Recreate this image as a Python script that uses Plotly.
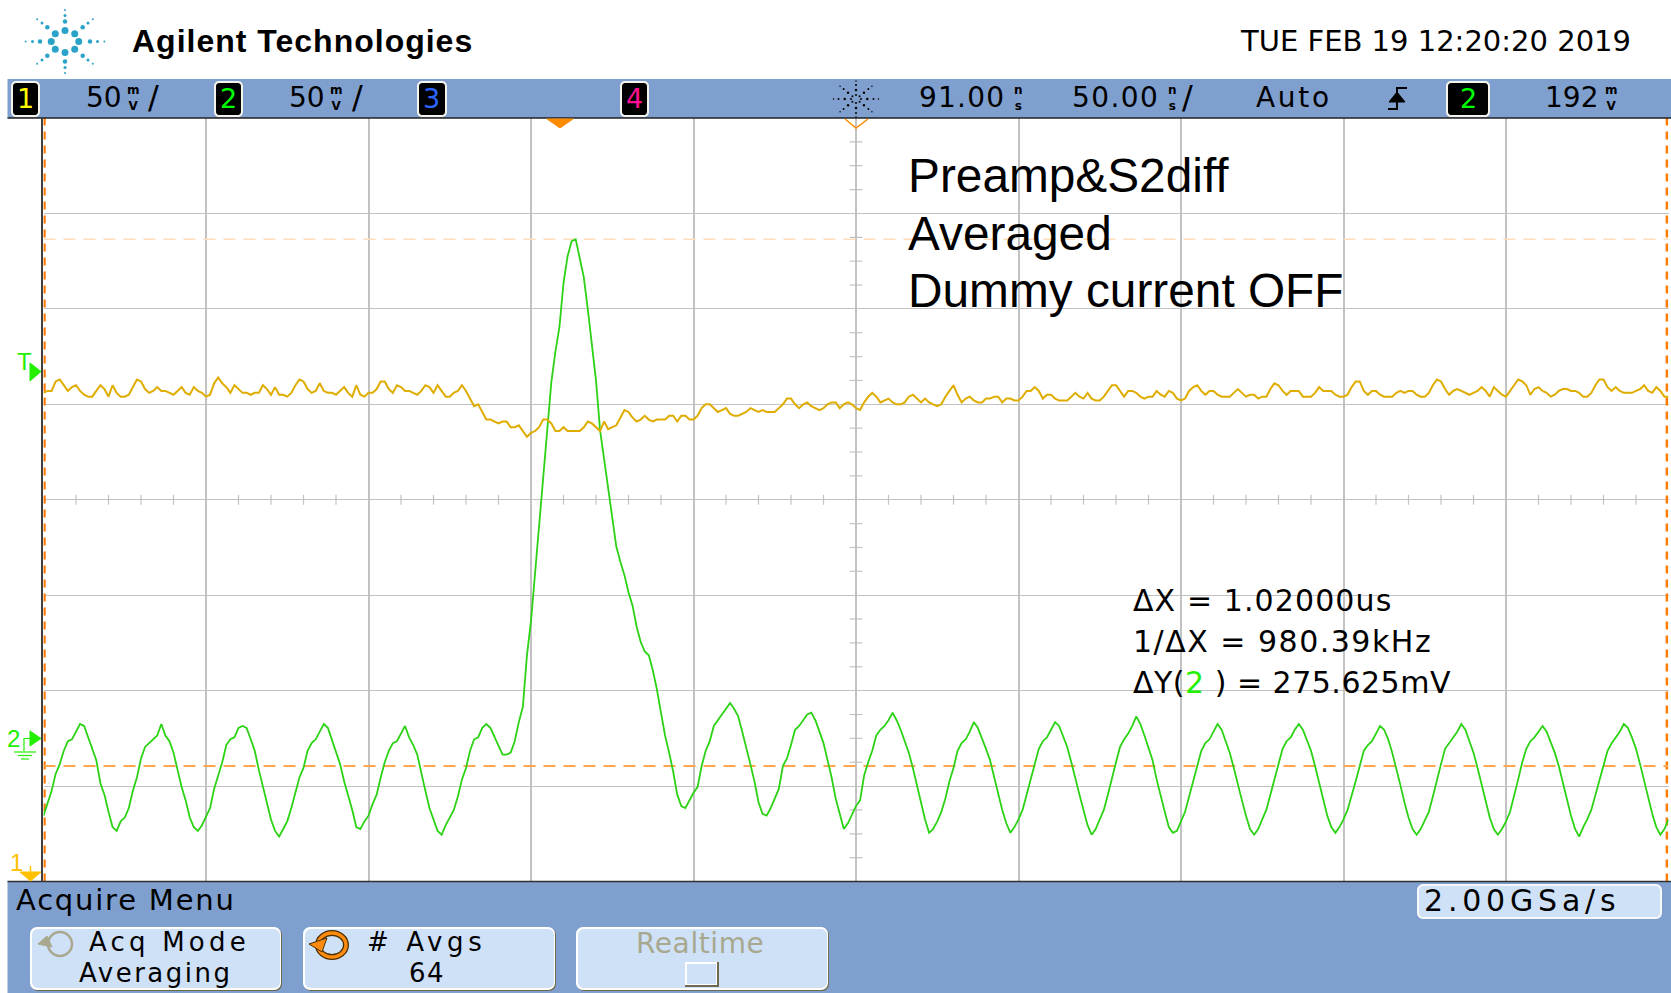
import math
import plotly.graph_objects as go

W, H = 1671, 993
PX0, PX1, PY0, PY1 = 43.5, 1668.5, 118.0, 881.5

# --- data ---
t_start_ns = -159.0
t_span_ns = 500.0
sample_ns = 1.25
ch2_mv = [
 -40,-34,-27,-18,-13,-6,-1,0,4,8,7,1,-5,-11,-23,-29,-38,-46,-48,-43,
 -41,-36,-27,-20,-10,-4,-2,0,2,8,2,-1,-7,-16,-25,-32,-41,-46,-48,-45,
 -40,-36,-26,-19,-12,-3,0,1,6,7,6,0,-6,-16,-25,-34,-42,-48,-51,-47,
 -43,-36,-28,-20,-15,-6,-2,0,4,8,6,0,-7,-13,-22,-29,-37,-46,-47,-43,
 -40,-34,-29,-20,-12,-6,-2,-1,3,7,1,-3,-8,-18,-27,-36,-42,-48,-50,-45,
 -41,-37,-30,-21,-15,-6,0,1,6,8,6,1,-3,-8,-8,-7,-1,9,17,44,
 62,87,111,135,160,187,203,216,239,253,261,262,252,242,225,208,188,162,146,132,
 114,101,93,86,77,70,59,51,46,44,36,26,14,2,-7,-17,-29,-35,-36,-32,
 -28,-25,-14,-6,-1,7,10,13,16,19,16,12,4,-4,-13,-22,-33,-39,-40,-36,
 -31,-26,-14,-10,-3,5,7,10,13,14,10,4,-2,-11,-20,-31,-39,-47,-44,-39,
 -35,-32,-19,-12,-6,2,5,7,10,14,10,5,-1,-7,-15,-24,-33,-42,-49,-47,
 -43,-38,-31,-22,-15,-6,-2,0,4,9,6,1,-5,-11,-20,-28,-37,-44,-49,-46,
 -42,-37,-29,-21,-13,-5,-1,1,5,9,7,2,-4,-12,-21,-29,-37,-45,-50,-47,
 -42,-37,-29,-20,-12,-4,0,3,7,12,8,2,-4,-11,-21,-30,-38,-46,-49,-48,
 -43,-38,-30,-22,-13,-6,-2,0,4,8,5,-1,-7,-15,-24,-32,-40,-47,-50,-47,
 -42,-37,-29,-21,-12,-5,-1,1,5,8,5,0,-6,-14,-23,-32,-40,-46,-49,-46,
 -42,-37,-30,-22,-14,-6,-3,-1,3,7,5,0,-7,-15,-24,-33,-41,-47,-50,-47,
 -42,-38,-30,-21,-13,-5,-2,1,4,8,5,-1,-7,-15,-24,-33,-41,-47,-50,-47,
 -43,-38,-30,-21,-12,-5,-1,1,4,7,4,-1,-7,-14,-23,-32,-40,-47,-51,-46,
 -42,-37,-29,-21,-13,-6,-2,1,4,8,6,1,-5,-13,-22,-31,-39,-46,-50,-47,
 -42]
ch1_mv = [
 56,57,57,62,63,60,57,59,60,57,55,54,54,57,60,58,54,60,56,54,
 54,55,59,63,62,58,56,57,59,57,57,56,55,57,59,56,55,59,57,56,
 54,55,61,64,61,59,56,60,58,56,56,55,56,56,60,58,55,59,55,55,
 54,56,60,63,62,58,56,57,61,57,56,56,55,57,59,56,54,60,55,54,
 56,56,58,62,62,58,56,60,59,57,57,56,55,57,60,59,56,60,57,54,
 54,56,57,60,57,53,49,50,46,42,42,41,40,41,41,38,38,39,36,33,
 35,36,38,42,42,40,36,36,38,36,36,36,36,38,41,40,38,36,41,37,
 38,39,43,47,46,43,41,42,44,42,41,42,42,42,44,44,41,44,44,42,
 42,44,48,50,50,48,46,47,48,45,44,44,45,46,48,47,46,47,46,46,
 46,48,50,53,53,50,48,50,51,49,48,47,48,50,51,51,48,50,51,50,
 48,47,51,54,56,54,51,52,53,51,50,50,51,54,55,53,51,53,51,50,
 49,50,54,57,60,55,51,53,54,52,51,51,53,53,54,54,51,53,53,52,
 52,54,57,57,59,57,53,55,55,53,52,52,52,54,56,54,53,56,53,52,
 52,54,57,60,60,57,54,57,57,56,54,53,54,54,57,55,54,57,56,53,
 52,53,57,59,60,57,55,57,57,55,54,54,54,56,58,56,54,55,55,53,
 54,54,58,61,60,57,55,57,57,57,54,54,54,56,59,57,57,57,55,54,
 54,55,59,62,62,57,55,57,57,55,54,54,54,56,57,56,57,57,55,54,
 54,56,60,63,62,58,55,57,58,57,56,55,56,57,59,57,54,59,57,55,
 54,57,60,63,62,60,55,58,59,57,56,54,55,57,58,58,57,57,56,54,
 54,56,60,63,63,59,57,59,57,56,56,56,57,58,60,57,56,59,57,54,
 54]
cursor_y_mv = [262, -14]
cursor_x_ns = [-158.7, 340.5]
ch2_range_mv = [-74.5, 325.5]
ch1_range_mv = [-200, 200]
x_grid_ns = [-159, -109, -59, -9, 41, 91, 141, 191, 241, 291, 341]
y_grid_mv = [-74.5, -24.5, 25.5, 75.5, 125.5, 175.5, 225.5, 275.5, 325.5]
date_text = "TUE FEB 19 12:20:20 2019"
note_lines = ["Preamp&S2diff", "Averaged", "Dummy current OFF"]

time_ns = [t_start_ns + sample_ns * k for k in range(len(ch2_mv))]
time1_ns = [t_start_ns + sample_ns * k for k in range(len(ch1_mv))]

BLUE = "#7F9FCE"
BTN = "#CFE1F7"
OLIVE = "#6E6A4E"
GRID = "#C2C2C2"
SANS = "Liberation Sans"
DJ = "DejaVu Sans"

def fx(p): return p / W
def fy(p): return 1 - p / H

shapes, ann = [], []

def rect(x0, y0, x1, y1, fill, line=None, lw=0):
    shapes.append(dict(type="rect", xref="paper", yref="paper", x0=fx(x0), x1=fx(x1), y0=fy(y0), y1=fy(y1),
                       fillcolor=fill, line=dict(color=line or fill, width=lw)))

def pth(points, fill=None, line=None, lw=0, close=True):
    d = "M " + " L ".join(f"{fx(a):.5f},{fy(b):.5f}" for a, b in points) + (" Z" if close else "")
    shapes.append(dict(type="path", xref="paper", yref="paper", path=d, fillcolor=fill or "rgba(0,0,0,0)",
                       line=dict(color=line or "rgba(0,0,0,0)", width=lw)))

def rrect_pts(x0, y0, x1, y1, r):
    pts = []
    for cx, cy, a0 in [(x1 - r, y0 + r, -90), (x1 - r, y1 - r, 0), (x0 + r, y1 - r, 90), (x0 + r, y0 + r, 180)]:
        for i in range(5):
            a = math.radians(a0 + i * 22.5)
            pts.append((cx + r * math.cos(a), cy + r * math.sin(a)))
    return pts

def circle(cx, cy, rx, ry, fill=None, line=None, lw=0):
    shapes.append(dict(type="circle", xref="paper", yref="paper", x0=fx(cx - rx), x1=fx(cx + rx),
                       y0=fy(cy + ry), y1=fy(cy - ry), fillcolor=fill or "rgba(0,0,0,0)",
                       line=dict(color=line or "rgba(0,0,0,0)", width=lw)))

def txt(x, y, s, size, color="#000000", font=DJ, anchor="left", weight=None, spacing=0):
    f = dict(size=size, color=color, family=font)
    if weight:
        f["weight"] = weight
    if spacing:
        s = f'<span style="letter-spacing:{spacing}px">{s}</span>'
    ann.append(dict(xref="paper", yref="paper", x=fx(x), y=fy(y), text=s, showarrow=False, xanchor=anchor,
                    yanchor="middle", font=f, borderpad=0, borderwidth=0))

def star(cx, cy, sx, rings, color):
    for r, d, n in rings:
        for i in range(n):
            a = math.radians(i * 360 / n + 90)
            circle(cx + sx * r * math.cos(a), cy + r * math.sin(a), d / 2, d / 2, fill=color)

# bands
rect(7.5, 79, W, 118, BLUE)
rect(7.5, 881.5, W, H, BLUE)
shapes.append(dict(type="line", xref="paper", yref="paper", x0=fx(7.5), x1=1, y0=fy(118), y1=fy(118), line=dict(color="#202020", width=1.5)))
shapes.append(dict(type="line", xref="paper", yref="paper", x0=fx(7.5), x1=1, y0=fy(881.5), y1=fy(881.5), line=dict(color="#303030", width=1.5)))
shapes.append(dict(type="line", xref="paper", yref="paper", x0=fx(42), x1=fx(42), y0=fy(118), y1=fy(881.5), line=dict(color="#404040", width=2)))

# logo + header text
star(65, 41.5, 1.25, [(11, 7, 8), (20, 4.5, 8), (26, 3, 8), (31.5, 2, 8)], "#2AA3C9")
txt(132, 41, "Agilent Technologies", 32, font=SANS, weight=700, spacing=1)
txt(1631, 41, date_text, 29, anchor="right")

# channel badges
for x0, x1, label, col in [(12, 39, "1", "#FFFF00"), (215, 242, "2", "#00FF00"), (418, 446, "3", "#2A66FF"),
                           (621, 648, "4", "#FF1090"), (1447, 1489, "2", "#00FF00")]:
    pth(rrect_pts(x0, 82, x1, 116, 4), fill="#000000", line="#F4F4EC", lw=2)
    txt((x0 + x1) / 2, 98.5, label, 27, color=col, anchor="center")

def stacked(x, top, bottom):
    txt(x, 97.5, f"{top}<br>{bottom}", 12, anchor="center", weight=700)

txt(86, 97, "50", 28); stacked(133, "m", "V"); txt(153, 97, "/", 32, anchor="center")
txt(289, 97, "50", 28); stacked(336, "m", "V"); txt(357, 97, "/", 32, anchor="center")
txt(919, 97, "91.00", 28, spacing=1.2); stacked(1018, "n", "s")
txt(1072, 97, "50.00", 28, spacing=1.4); stacked(1172, "n", "s"); txt(1187, 97, "/", 32, anchor="center")
txt(1256, 97, "Auto", 28, spacing=2.7)
pth([(1388, 109), (1397, 109), (1397, 88), (1407, 88)], line="#000000", lw=2, close=False)
pth([(1389, 102), (1397, 92), (1405, 102)], fill="#000000", line="#000000", lw=1)
txt(1545, 97, "192", 28); stacked(1611, "m", "V")
star(856, 99, 1.25, [(4, 2, 8), (9, 2.5, 8), (14, 2, 8), (18, 1.5, 8)], "#000000")

# cursor flags at top
pth([(547, 119), (573, 119), (560, 128)], fill="#FF8C00", line="#FF8C00", lw=1)
pth([(845, 119), (856, 128), (868, 119)], line="#FF8C00", lw=1.5, close=False)

# left markers
txt(17, 362, "T", 24, color="#22F000", font=SANS)
pth([(30, 363), (41, 371.5), (30, 381)], fill="#22F000", line="#22F000", lw=1)
txt(7, 738, "2", 24, color="#22F000", font=SANS)
pth([(30, 731), (41, 738.5), (30, 746)], fill="#22F000", line="#22F000", lw=1)
pth([(30, 738.5), (24, 738.5), (24, 751)], line="#22F000", lw=1.2, close=False)
for a, b, yy in [(14, 36, 752), (18, 32, 755.5), (21, 29, 759)]:
    pth([(a, yy), (b, yy)], line="#22F000", lw=1.2, close=False)
txt(10, 862, "1", 24, color="#FFC000", font=SANS)
pth([(20, 872), (41, 872), (30.5, 881)], fill="#FFC000", line="#FFC000", lw=1)
pth([(30.5, 866), (30.5, 872)], line="#FFC000", lw=1.5, close=False)

# footer
txt(16, 900, "Acquire Menu", 29, spacing=1.8)
for x0, x1 in [(30, 281), (303, 555), (576, 828)]:
    pth(rrect_pts(x0 + 1, 928, x1 + 1, 991, 7), fill=OLIVE)
    pth(rrect_pts(x0, 927, x1, 990, 7), fill="#FFFFFF")
    pth(rrect_pts(x0 + 2, 929, x1 - 1, 988, 6), fill=BTN)
txt(169, 942, "Acq Mode", 26, anchor="center", spacing=4.2)
txt(155, 973, "Averaging", 26, anchor="center", spacing=2.5)
circle(60, 944, 12, 12, line="#A9A88F", lw=2.5)
pth([(38, 944), (47, 936), (52, 947)], fill="#A9A88F", line="#A9A88F", lw=1)
txt(367, 942, "# Avgs", 26, spacing=4.6)
txt(427, 973, "64", 26, anchor="center", spacing=1.5)
circle(332, 945, 14, 12, line="#4A3000", lw=6)
circle(332, 945, 14, 12, line="#FF8A10", lw=3.5)
pth([(309, 944), (327, 938), (322, 952)], fill="#FF8A10", line="#4A3000", lw=1)
txt(700, 943, "Realtime", 28, color="#A8A88F", anchor="center", spacing=0.6)
rect(685, 962, 718, 986, "#FFFFFF")
pth([(718, 962), (718, 986), (685, 986)], line=OLIVE, lw=2, close=False)
rect(687, 964, 716, 984, BTN)
pth(rrect_pts(1418, 885, 1661, 918, 5), fill=BTN, line="#F8F8F8", lw=2)
txt(1424, 900, "2.00GSa/s", 30, spacing=4.8)

# free annotations
for s, y in zip(note_lines, [175, 233, 290]):
    txt(908, y, s, 47.8, font=SANS)
txt(1133, 600, "ΔX = 1.02000us", 30, spacing=1.1)
txt(1133, 641, "1/ΔX = 980.39kHz", 30, spacing=1.5)
txt(1133, 682, 'ΔY(<span style="color:#22F000">2 </span>) = 275.625mV', 30, spacing=0.5)

fig = go.Figure()

# centre-line ticks drawn as markers on the axes
cx = 91
cy = 125.5
tick_x = [x_grid_ns[0] + 10 * i for i in range(51) if i % 5]
tick_y = [y_grid_mv[0] + 12.5 * i for i in range(33) if i % 4]
fig.add_trace(go.Scatter(x=tick_x, y=[cy] * len(tick_x), mode="markers", hoverinfo="skip",
                         marker=dict(symbol="line-ns", size=7, line=dict(color=GRID, width=1.2), color=GRID)))
fig.add_trace(go.Scatter(x=[cx] * len(tick_y), y=tick_y, mode="markers", hoverinfo="skip",
                         marker=dict(symbol="line-ew", size=9, line=dict(color=GRID, width=1.2), color=GRID)))

for xc in cursor_x_ns:
    fig.add_trace(go.Scatter(x=[xc, xc], y=ch2_range_mv, mode="lines", hoverinfo="skip",
                             line=dict(color="#FF7A00", width=2.5, dash="8px,6px")))
fig.add_trace(go.Scatter(x=[t_start_ns, t_start_ns + t_span_ns], y=[cursor_y_mv[0]] * 2, mode="lines", hoverinfo="skip",
                         line=dict(color="#FFDDB8", width=1.5, dash="12px,8px")))
fig.add_trace(go.Scatter(x=[t_start_ns, t_start_ns + t_span_ns], y=[cursor_y_mv[1]] * 2, mode="lines", hoverinfo="skip",
                         line=dict(color="#FFA650", width=1.8, dash="12px,8px")))
fig.add_trace(go.Scatter(x=time1_ns, y=ch1_mv, yaxis="y2", mode="lines", name="Channel 1",
                         line=dict(color="#DFAC00", width=2)))
fig.add_trace(go.Scatter(x=time_ns, y=ch2_mv, mode="lines", name="Channel 2",
                         line=dict(color="#2CD214", width=1.8)))

fig.update_layout(
    width=W, height=H, margin=dict(l=0, r=0, t=0, b=0, pad=0), showlegend=False,
    paper_bgcolor="#FFFFFF", plot_bgcolor="#FFFFFF",
    xaxis=dict(domain=[fx(PX0), fx(PX1)], range=[t_start_ns, t_start_ns + t_span_ns], tickvals=x_grid_ns,
               showticklabels=False, ticks="", showgrid=True, gridcolor=GRID, gridwidth=1.6, zeroline=False, showline=False),
    yaxis=dict(domain=[fy(PY1), fy(PY0)], range=ch2_range_mv, tickvals=y_grid_mv, showticklabels=False, ticks="",
               showgrid=True, gridcolor=GRID, gridwidth=1.4, zeroline=False, showline=False),
    yaxis2=dict(domain=[fy(PY1), fy(PY0)], range=ch1_range_mv, overlaying="y", visible=False),
    shapes=shapes, annotations=ann,
)
fig.write_html("out.html", config={"displayModeBar": False},
               post_script="document.body.style.margin='0';document.body.style.overflow='hidden';")
